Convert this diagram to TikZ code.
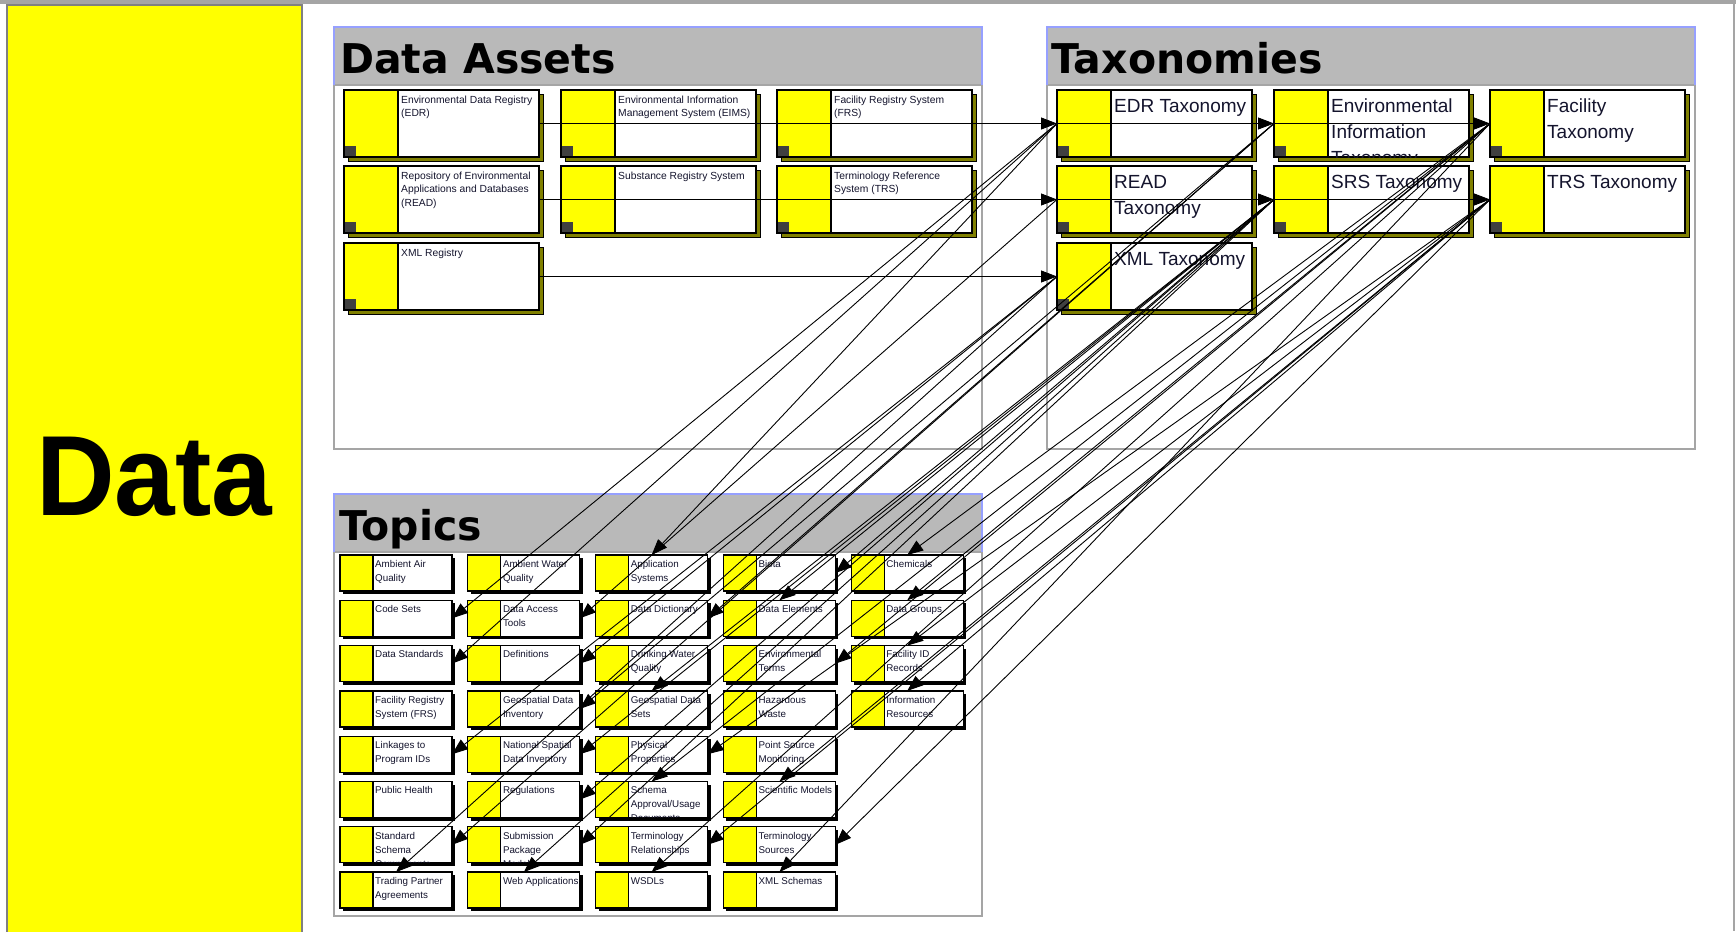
\documentclass[tikz,border=0pt]{standalone}
\usepackage{fontspec}
\setmainfont{Liberation Sans}
\newfontfamily\titlefont{DejaVu Sans}
\usetikzlibrary{arrows.meta}
\definecolor{hdrgray}{RGB}{185,185,185}
\definecolor{framegray}{RGB}{165,165,165}
\definecolor{hdrblue}{RGB}{150,160,255}
\definecolor{olivesh}{RGB}{128,128,0}
\definecolor{sqgray}{RGB}{64,64,64}
\definecolor{textc}{RGB}{20,20,45}
\definecolor{pureyellow}{RGB}{255,255,0}
\tikzset{
  bigbox/.style={minimum width=195pt,minimum height=67pt,inner sep=0pt,outer sep=0pt,fill=white},
  topicbox/.style={minimum width=112pt,minimum height=36pt,inner sep=0pt,outer sep=0pt,fill=white},
  bigtext/.style={anchor=north west,inner sep=0pt,align=left,text=textc,font=\fontsize{19}{26}\selectfont,yshift=-3pt},
  smalltext/.style={anchor=north west,inner sep=0pt,align=left,text=textc,font=\fontsize{10.3}{13.3}\selectfont},
  topictext/.style={anchor=north west,inner sep=0pt,align=left,text=textc,font=\fontsize{9.8}{14}\selectfont},
  titletext/.style={anchor=base west,inner sep=0pt,font=\titlefont\bfseries\fontsize{41}{42}\selectfont},
  arr/.style={line width=0.9pt,-{Triangle[length=16pt,width=12pt]}},
  boxline/.style={line width=1.3pt,draw=black}
}
% #1 name, #2 x0, #3 y0, #4 text style, #5 text
\newcommand\mkBig[5]{%
  \fill[olivesh,draw=black,line width=0.8pt] (#2+4,#3+4) rectangle (#2+199,#3+71);
  \node[bigbox,anchor=north west] (#1) at (#2,#3) {};
  \fill[pureyellow] (#2,#3) rectangle (#2+54,#3+67);
  \fill[sqgray] (#2+1,#3+56) rectangle (#2+12,#3+66);
  \draw[boxline] (#2+54,#3) -- (#2+54,#3+67);
  \draw[boxline] (#1.north west) rectangle (#1.south east);
  \begin{scope}
    \clip (#2,#3) rectangle (#2+195,#3+67);
    \node[#4] (#1-t) at (#2+57,#3+6) {#5};
  \end{scope}
}
% #1 name, #2 col, #3 row, #4 text
\newcommand\mkTopic[4]{%
  \pgfmathsetmacro\tpx{340+127.8*#2}
  \pgfmathsetmacro\tpy{555+45.3*#3}
  \fill[black] (\tpx+3,\tpy+3) rectangle (\tpx+115,\tpy+39);
  \node[topicbox,anchor=north west] (#1) at (\tpx,\tpy) {};
  \fill[pureyellow] (\tpx,\tpy) rectangle (\tpx+33,\tpy+36);
  \draw[boxline] (\tpx+33,\tpy) -- (\tpx+33,\tpy+36);
  \draw[boxline] (#1.north west) rectangle (#1.south east);
  \begin{scope}
    \clip (\tpx,\tpy) rectangle (\tpx+112,\tpy+36);
    \node[topictext] (#1-t) at (\tpx+35,\tpy+5) {#4};
  \end{scope}
}
\begin{document}
\begin{tikzpicture}[x=1pt,y=-1pt]
\useasboundingbox (0,0) rectangle (1736,931);
\fill[white] (0,0) rectangle (1736,931);
% top band and right edge
\fill[framegray] (0,0) rectangle (1736,4);
\draw[framegray,line width=1.5pt] (1734,4) -- (1734,931);
% yellow side panel
\fill[pureyellow,draw=gray,line width=1.5pt] (7,5) rectangle (302,935);
\node[anchor=base,inner sep=0pt,xscale=0.955,font=\bfseries\fontsize{114}{114}\selectfont] (bigdata) at (154,515) {Data};

% frames
\foreach \fx/\fy/\fn in {334/27/fa,1047/27/fb,334/494/fc}{
  \fill[white] (\fx,\fy) rectangle (\fx+648,\fy+422);
  \fill[hdrgray] (\fx,\fy) rectangle (\fx+648,\fy+58);
  \draw[framegray,line width=1.5pt] (\fx,\fy+58) -- (\fx,\fy+422) -- (\fx+648,\fy+422) -- (\fx+648,\fy+58) -- cycle;
  \draw[hdrblue,line width=1.2pt] (\fx,\fy+58) -- (\fx,\fy) -- (\fx+648,\fy) -- (\fx+648,\fy+58);
}
\node[titletext] (ttlA) at (340,74) {Data Assets};
\node[titletext] (ttlB) at (1051,74) {Taxonomies};
\node[titletext] (ttlC) at (339,540) {Topics};

% data assets
\mkBig{daEDR}{344}{90}{smalltext}{Environmental Data Registry\\(EDR)}
\mkBig{daEIMS}{561}{90}{smalltext}{Environmental Information\\Management System (EIMS)}
\mkBig{daFRS}{777}{90}{smalltext}{Facility Registry System\\(FRS)}
\mkBig{daREAD}{344}{166}{smalltext}{Repository of Environmental\\Applications and Databases\\(READ)}
\mkBig{daSRS}{561}{166}{smalltext}{Substance Registry System}
\mkBig{daTRS}{777}{166}{smalltext}{Terminology Reference\\System (TRS)}
\mkBig{daXML}{344}{243}{smalltext}{XML Registry}

% taxonomies
\mkBig{txEDR}{1057}{90}{bigtext}{EDR Taxonomy}
\mkBig{txEI}{1274}{90}{bigtext}{Environmental\\Information\\Taxonomy}
\mkBig{txFac}{1490}{90}{bigtext}{Facility\\Taxonomy}
\mkBig{txREAD}{1057}{166}{bigtext}{READ\\Taxonomy}
\mkBig{txSRS}{1274}{166}{bigtext}{SRS Taxonomy}
\mkBig{txTRS}{1490}{166}{bigtext}{TRS Taxonomy}
\mkBig{txXML}{1057}{243}{bigtext}{XML Taxonomy}

% topics
\mkTopic{tAmbAir}{0}{0}{Ambient Air\\Quality}
\mkTopic{tAmbWater}{1}{0}{Ambient Water\\Quality}
\mkTopic{tAppSys}{2}{0}{Application\\Systems}
\mkTopic{tBiota}{3}{0}{Biota}
\mkTopic{tChem}{4}{0}{Chemicals}
\mkTopic{tCodeSets}{0}{1}{Code Sets}
\mkTopic{tDataAccess}{1}{1}{Data Access\\Tools}
\mkTopic{tDataDict}{2}{1}{Data Dictionary}
\mkTopic{tDataElem}{3}{1}{Data Elements}
\mkTopic{tDataGroups}{4}{1}{Data Groups}
\mkTopic{tDataStd}{0}{2}{Data Standards}
\mkTopic{tDefs}{1}{2}{Definitions}
\mkTopic{tDrinking}{2}{2}{Drinking Water\\Quality}
\mkTopic{tEnvTerms}{3}{2}{Environmental\\Terms}
\mkTopic{tFacID}{4}{2}{Facility ID\\Records}
\mkTopic{tFRS}{0}{3}{Facility Registry\\System (FRS)}
\mkTopic{tGeoInv}{1}{3}{Geospatial Data\\Inventory}
\mkTopic{tGeoSets}{2}{3}{Geospatial Data\\Sets}
\mkTopic{tHazWaste}{3}{3}{Hazardous\\Waste}
\mkTopic{tInfoRes}{4}{3}{Information\\Resources}
\mkTopic{tLinkages}{0}{4}{Linkages to\\Program IDs}
\mkTopic{tNatSpatial}{1}{4}{National Spatial\\Data Inventory}
\mkTopic{tPhysProp}{2}{4}{Physical\\Properties}
\mkTopic{tPointSrc}{3}{4}{Point Source\\Monitoring}
\mkTopic{tPublicHealth}{0}{5}{Public Health}
\mkTopic{tRegs}{1}{5}{Regulations}
\mkTopic{tSchema}{2}{5}{Schema\\Approval/Usage\\Documents}
\mkTopic{tSciModels}{3}{5}{Scientific Models}
\mkTopic{tStdSchema}{0}{6}{Standard\\Schema\\Components}
\mkTopic{tSubmission}{1}{6}{Submission\\Package\\Models}
\mkTopic{tTermRel}{2}{6}{Terminology\\Relationships}
\mkTopic{tTermSrc}{3}{6}{Terminology\\Sources}
\mkTopic{tTrading}{0}{7}{Trading Partner\\Agreements}
\mkTopic{tWebApps}{1}{7}{Web Applications}
\mkTopic{tWSDLs}{2}{7}{WSDLs}
\mkTopic{tXMLSchemas}{3}{7}{XML Schemas}

% data asset -> taxonomy arrows
\draw[arr] (daEDR.east) -- (txEDR.west);
\draw[arr] (daEIMS.east) -- (txEI.west);
\draw[arr] (daFRS.east) -- (txFac.west);
\draw[arr] (daREAD.east) -- (txREAD.west);
\draw[arr] (daSRS.east) -- (txSRS.west);
\draw[arr] (daTRS.east) -- (txTRS.west);
\draw[arr] (daXML.east) -- (txXML.west);

% taxonomy -> topic arrows
\draw[arr] (txEDR.west) -- (tAppSys.north);
\draw[arr] (txEDR.west) -- (tCodeSets.east);
\draw[arr] (txEDR.west) -- (tDataStd.east);
\draw[arr] (txREAD.west) -- (tDataAccess.east);
\draw[arr] (txXML.west) -- (tLinkages.east);
\draw[arr] (txXML.west) -- (tDefs.east);
\draw[arr] (txXML.west) -- (tTrading.north);
\draw[arr] (txEI.west) -- (tGeoInv.east);
\draw[arr] (txEI.west) -- (tStdSchema.east);
\draw[arr] (txEI.west) -- (tDataDict.east);
\draw[arr] (txSRS.west) -- (tNatSpatial.east);
\draw[arr] (txSRS.west) -- (tGeoSets.north);
\draw[arr] (txSRS.west) -- (tDataElem.north);
\draw[arr] (txSRS.west) -- (tRegs.east);
\draw[arr] (txSRS.west) -- (tWebApps.north);
\draw[arr] (txSRS.west) -- (tBiota.east);
\draw[arr] (txSRS.west) -- (tSubmission.east);
\draw[arr] (txFac.west) -- (tSchema.north);
\draw[arr] (txFac.west) -- (tChem.north);
\draw[arr] (txFac.west) -- (tEnvTerms.east);
\draw[arr] (txFac.west) -- (tDataGroups.north);
\draw[arr] (txFac.west) -- (tWSDLs.north);
\draw[arr] (txFac.west) -- (tXMLSchemas.north);
\draw[arr] (txTRS.west) -- (tPhysProp.east);
\draw[arr] (txTRS.west) -- (tFacID.north);
\draw[arr] (txTRS.west) -- (tTermRel.east);
\draw[arr] (txTRS.west) -- (tSciModels.north);
\draw[arr] (txTRS.west) -- (tInfoRes.north);
\draw[arr] (txTRS.west) -- (tTermSrc.east);
\end{tikzpicture}
\end{document}
